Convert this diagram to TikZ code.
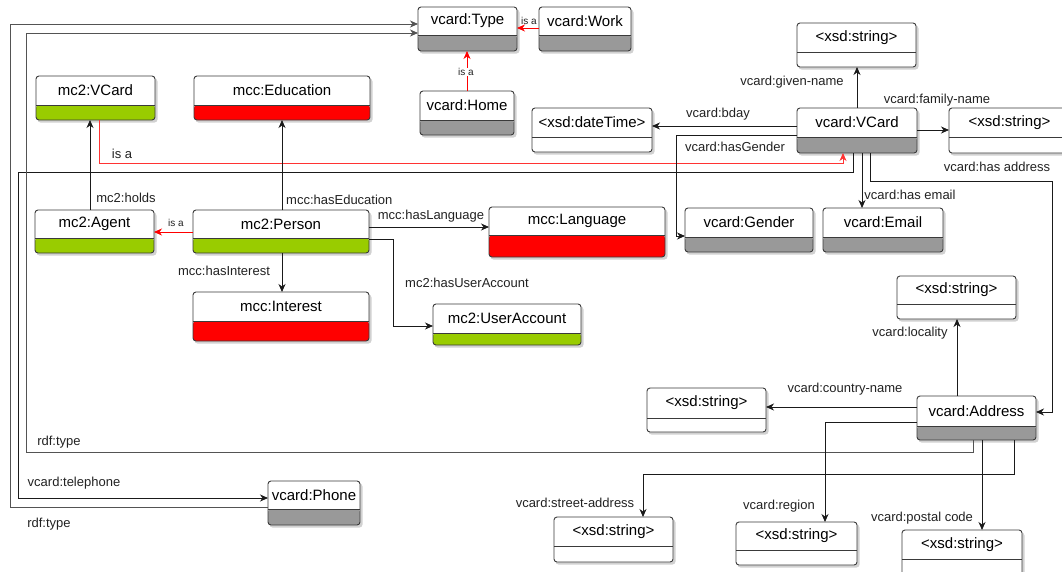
\documentclass[tikz,border=0pt]{standalone}
\usepackage{fontspec}
\setmainfont{Liberation Sans}
\usetikzlibrary{arrows.meta,calc}
\definecolor{gr}{HTML}{99CC00}
\definecolor{rd}{HTML}{FF0000}
\definecolor{gy}{HTML}{999999}
\definecolor{ln}{HTML}{1A1A1A}
\definecolor{bord}{HTML}{3A3A3A}
\definecolor{txt}{HTML}{222222}
\tikzset{
  umlbox/.style={draw=bord, fill=white, rounded corners=3pt, line width=0.9pt, inner sep=0pt, outer sep=0pt},
  boxtext/.style={font=\fontsize{15}{18}\selectfont, text=black, inner sep=0pt},
  lbl/.style={font=\fontsize{13}{15}\selectfont, text=txt, inner sep=0pt},
  lblsmall/.style={font=\fontsize{10}{12}\selectfont, text=txt, inner sep=0.5pt},
  conn/.style={draw=ln, line width=0.8pt, -{Stealth[length=8pt,width=7pt,inset=2.5pt]}},
  conng/.style={draw=ln!75, line width=0.8pt, -{Stealth[length=8pt,width=7pt,inset=2.5pt]}},
  isa/.style={draw=rd, line width=0.8pt, -{Stealth[length=8pt,width=7pt,inset=2.5pt]}},
  isab/.style={draw=rd!80, line width=0.8pt, -{Stealth[length=8pt,width=7pt,inset=2.5pt]}},
}
\newcommand\ubox[8]{%
  \pgfmathsetmacro\UBw{#4-#2}%
  \pgfmathsetmacro\UBh{#5-#3}%
  \pgfmathsetmacro\UBf{#5-#6}%
  \fill[black, opacity=0.18, rounded corners=3pt] (#2+1.5,#3+2.5) rectangle (#4+2.5,#5+2.5);
  \node[umlbox, minimum width=\UBw pt, minimum height=\UBh pt, anchor=north west,
    path picture={\fill[#7] (path picture bounding box.south west) rectangle ([yshift=\UBf pt]path picture bounding box.south east);}]
    (#1) at (#2,#3) {};
  \draw[draw=bord, line width=0.9pt] ([yshift=\UBf pt]#1.south west) -- ([yshift=\UBf pt]#1.south east);
  \node[boxtext] (#1-t) at ($(#1.north)!0.5!([yshift=\UBf pt]#1.south)$) {#8};
}
\begin{document}
\begin{tikzpicture}[x=1pt,y=-1pt]
\useasboundingbox (0,0) rectangle (1062,571);
\fill[white] (0,0) rectangle (1062,571);
\clip (0,0) rectangle (1062,571);

% boxes
\ubox{type}{418}{7}{517}{51}{35}{gy}{vcard:Type}
\ubox{work}{539}{7}{631}{51}{35}{gy}{vcard:Work}
\ubox{home}{420}{91}{514}{135}{120}{gy}{vcard:Home}
\ubox{mvcard}{36}{76}{155}{120}{105}{gr}{mc2:VCard}
\ubox{edu}{194}{76}{370}{120}{105}{rd}{mcc:Education}
\ubox{agent}{35}{210}{154}{253}{238}{gr}{mc2:Agent}
\ubox{person}{193}{210}{369}{253}{238}{gr}{mc2:Person}
\ubox{interest}{193}{292}{369}{341}{321}{rd}{mcc:Interest}
\ubox{lang}{489}{207}{665}{257}{235}{rd}{mcc:Language}
\ubox{ua}{433}{304}{581}{345}{333}{gr}{mc2:UserAccount}
\ubox{dt}{532}{108}{652}{152}{137}{white}{<xsd:dateTime>}
\ubox{vvc}{797}{108}{917}{153}{137}{gy}{vcard:VCard}
\ubox{sgiven}{797}{23}{916}{67}{52}{white}{<xsd:string>}
\ubox{sfamily}{949}{108}{1070}{153}{137}{white}{<xsd:string>}
\ubox{gender}{685}{208}{813}{252}{237}{gy}{vcard:Gender}
\ubox{email}{823}{208}{943}{252}{237}{gy}{vcard:Email}
\ubox{sloc}{897}{276}{1016}{319}{304}{white}{<xsd:string>}
\ubox{addr}{917}{396}{1036}{440}{426}{gy}{vcard:Address}
\ubox{scountry}{647}{388}{766}{432}{418}{white}{<xsd:string>}
\ubox{sstreet}{554}{517}{673}{562}{546}{white}{<xsd:string>}
\ubox{sregion}{736}{522}{857}{565}{550}{white}{<xsd:string>}
\ubox{spostal}{902}{530}{1022}{580}{559}{white}{<xsd:string>}
\ubox{phone}{268}{481}{360}{525}{509}{gy}{vcard:Phone}

% connectors
\draw[isa] (work.west |- 0,28) -- (type.east |- 0,28);
\draw[isa] (home.north -| 467,0) -- (type.south -| 467,0);
\draw[isa] (person.west |- 0,232) -- (agent.east |- 0,232);
\draw[conn] (agent.north -| 90,0) -- (mvcard.south -| 90,0);
\draw[isab] (mvcard.south -| 99,0) -- (99,163) -- (843,163) -- (vvc.south -| 843,0);
\draw[conn] (person.north -| 282,0) -- (edu.south -| 282,0);
\draw[conn] (person.east |- 0,227) -- (lang.west |- 0,227);
\draw[conn] (person.east |- 0,239) -- (393,239) -- (393,326) -- (ua.west |- 0,326);
\draw[conn] (person.south -| 282,0) -- (interest.north -| 282,0);
\draw[conn] (vvc.north -| 857,0) -- (sgiven.south -| 857,0);
\draw[conn] (vvc.east |- 0,130) -- (sfamily.west |- 0,130);
\draw[conn] (vvc.west |- 0,126) -- (dt.east |- 0,126);
\draw[conn] (vvc.west |- 0,135) -- (676,135) -- (676,236) -- (gender.west |- 0,236);
\draw[conn] (vvc.south -| 862,0) -- (email.north -| 862,0);
\draw[conn] (vvc.south -| 870,0) -- (870,181) -- (1052,181) -- (1052,412) -- (addr.east |- 0,412);
\draw[conn] (vvc.south -| 853,0) -- (853,172) -- (18,172) -- (18,498) -- (phone.west |- 0,498);
\draw[conng] (phone.west |- 0,507) -- (10,507) -- (10,24) -- (type.west |- 0,24);
\draw[conng] (addr.south -| 973,0) -- (973,452) -- (26,452) -- (26,33) -- (type.west |- 0,33);
\draw[conn] (addr.west |- 0,407) -- (scountry.east |- 0,407);
\draw[conn] (addr.north -| 957,0) -- (sloc.south -| 957,0);
\draw[conn] (addr.west |- 0,422) -- (825,422) -- (sregion.north -| 825,0);
\draw[conn] (addr.south -| 982,0) -- (spostal.north -| 982,0);
\draw[conn] (addr.south -| 1014,0) -- (1014,474) -- (643,474) -- (sstreet.north -| 643,0);

% labels
\node[lblsmall] (l1) at (529,21) {is a};
\node[lblsmall, fill=white] (l2) at (466,72) {is a};
\node[lblsmall] (l3) at (176,223) {is a};
\node[lbl] (l4) at (122,154) {is a};
\node[lbl] (l5) at (126,198) {mc2:holds};
\node[lbl, anchor=west] (l6) at (286,200) {mcc:hasEducation};
\node[lbl] (l7) at (431,216) {mcc:hasLanguage};
\node[lbl] (l8) at (467,283) {mc2:hasUserAccount};
\node[lbl] (l9) at (224,271) {mcc:hasInterest};
\node[lbl] (l10) at (792,82) {vcard:given-name};
\node[lbl] (l11) at (937,100) {vcard:family-name};
\node[lbl] (l12) at (718,114) {vcard:bday};
\node[lbl] (l13) at (735,147) {vcard:hasGender};
\node[lbl] (l14) at (910,195) {vcard:has email};
\node[lbl] (l15) at (997,167) {vcard:has address};
\node[lbl] (l16) at (74,483) {vcard:telephone};
\node[lbl] (l17) at (49,524) {rdf:type};
\node[lbl] (l18) at (59,442) {rdf:type};
\node[lbl] (l19) at (845,389) {vcard:country-name};
\node[lbl] (l20) at (910,333) {vcard:locality};
\node[lbl] (l21) at (779,506) {vcard:region};
\node[lbl] (l22) at (922,518) {vcard:postal code};
\node[lbl] (l23) at (575,503) {vcard:street-address};
\end{tikzpicture}
\end{document}
